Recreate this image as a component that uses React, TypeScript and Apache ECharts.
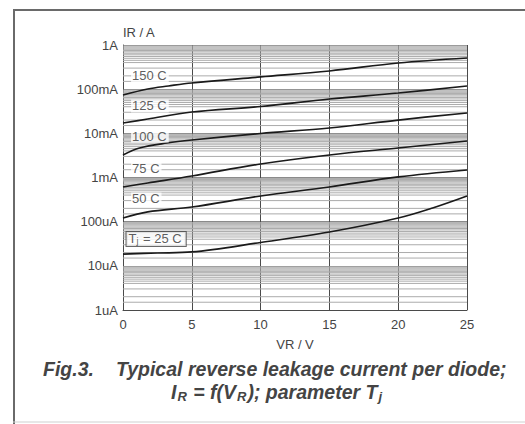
import React, { useEffect, useRef } from "react";
import * as echarts from "echarts";

// Reverse voltage VR (V) vs reverse current IR (A), per junction temperature
const t150: [number, number][] = [[0, 0.0738], [1.8, 0.101], [3.3, 0.118], [5, 0.138], [10, 0.189], [15, 0.258], [20, 0.391], [25, 0.508]];
const t125: [number, number][] = [[0, 0.01714], [1.8, 0.02113], [5, 0.0304], [10, 0.0405], [15, 0.0599], [20, 0.0819], [25, 0.118]];
const t100: [number, number][] = [[0, 0.00323], [1.2, 0.00466], [3.2, 0.00604], [5, 0.00706], [10, 0.00991], [15, 0.0132], [20, 0.02], [25, 0.0289]];
const t75: [number, number][] = [[0, 0.00061], [1.8, 0.000752], [5, 0.00108], [10, 0.00202], [15, 0.00323], [20, 0.00466], [25, 0.00671]];
const t50: [number, number][] = [[0, 0.000121], [1.8, 0.000166], [5, 0.000215], [10, 0.000381], [15, 0.00061], [20, 0.00103], [25, 0.00148]];
const t25: [number, number][] = [[0, 0.0000185], [2.5, 0.0000195], [5, 0.0000206], [10, 0.0000338], [15, 0.0000583], [20, 0.000121], [22.5, 0.000204], [25, 0.000381]];

const curves = [t150, t125, t100, t75, t50, t25];

const curveLabels = ["150 C", "125 C", "100 C", "75 C", "50 C"];
const curveLabelV = [0.55, 0.55, 0.55, 0.55, 0.55];
const curveLabelI = [0.199, 0.0416, 0.0087, 0.00164, 0.000326];
const tjLabelV = 0.22;
const tjLabelI = 0.0000406;

const yTickLabels = ["1uA", "10uA", "100uA", "1mA", "10mA", "100mA", "1A"];
const decades = [1e-6, 1e-5, 1e-4, 1e-3, 1e-2, 1e-1];
const minorMultipliers = [1.5, 2, 3, 4, 4.5, 5, 5.5, 6, 6.5, 7, 7.5, 8, 8.5, 9, 9.5];

export default function App() {
  const ref = useRef<HTMLDivElement>(null);
  useEffect(() => {
    document.body.style.margin = "0";
    const chart = echarts.init(ref.current!, null, { renderer: "svg" });
    const font = "'Liberation Sans', Arial, Helvetica, sans-serif";
    const minorValues: number[][] = [];
    decades.forEach((d) => minorMultipliers.forEach((m) => minorValues.push([12.5, m * d])));

    const series: any[] = [
      {
        type: "custom",
        silent: true,
        z: 1,
        data: minorValues,
        renderItem: (_p: any, api: any) => {
          const v = api.value(1);
          const a = api.coord([0, v]);
          const b = api.coord([25, v]);
          return {
            type: "line",
            shape: { x1: a[0], y1: a[1], x2: b[0], y2: b[1] },
            style: { stroke: "#ababab", lineWidth: 1 },
          };
        },
      },
      ...curves.map((c) => ({
        type: "line",
        data: c,
        smooth: 0.35,
        showSymbol: false,
        lineStyle: { color: "#1a1a1a", width: 1.7 },
        z: 5,
      })),
      {
        type: "scatter",
        symbolSize: 1,
        itemStyle: { color: "rgba(0,0,0,0)" },
        z: 10,
        data: curveLabels.map((n, i) => ({ name: n, value: [curveLabelV[i], curveLabelI[i]] })),
        label: {
          show: true,
          position: "right",
          distance: 0,
          formatter: "{b}",
          color: "#333",
          fontSize: 13,
          fontFamily: font,
          backgroundColor: "#fff",
          padding: [0, 2, 0, 1],
        },
      },
      {
        type: "scatter",
        symbolSize: 1,
        itemStyle: { color: "rgba(0,0,0,0)" },
        z: 10,
        data: [{ name: "Tj", value: [tjLabelV, tjLabelI] }],
        label: {
          show: true,
          position: "right",
          distance: 0,
          formatter: "{a|T}{s|j}{a| = 25 C}",
          backgroundColor: "#fff",
          borderColor: "#444",
          borderWidth: 1,
          padding: [0, 4, 0, 2],
          rich: {
            a: { fontSize: 13, color: "#333", fontFamily: font, lineHeight: 14, verticalAlign: "middle" },
            s: { fontSize: 9, color: "#333", fontFamily: font, lineHeight: 9, padding: [6, 1, 0, 0], verticalAlign: "bottom" },
          },
        },
      },
    ];

    const capStyle = { fontSize: 19.5, fontStyle: "italic", fontWeight: "bold", fontFamily: font, fill: "#444" };

    chart.setOption({
      animation: false,
      backgroundColor: "#fff",
      grid: { left: 123, top: 45, width: 344, height: 265, containLabel: false },
      xAxis: {
        type: "value",
        min: 0,
        max: 25,
        interval: 5,
        name: "VR / V",
        nameLocation: "middle",
        nameGap: 28,
        nameTextStyle: { color: "#444", fontSize: 13, fontFamily: font },
        axisLine: { show: true, lineStyle: { color: "#4a4a4a", width: 1 } },
        axisTick: { show: false },
        axisLabel: { color: "#444", fontSize: 13, fontFamily: font, margin: 8 },
        splitLine: { show: true, lineStyle: { color: "#4a4a4a", width: 1 } },
      },
      yAxis: {
        type: "log",
        logBase: 10,
        min: 1e-6,
        max: 1,
        interval: 1,
        name: "IR / A",
        nameLocation: "end",
        nameGap: 2,
        nameTextStyle: { color: "#444", fontSize: 13, fontFamily: font, align: "left" },
        axisLine: { show: true, lineStyle: { color: "#4a4a4a", width: 1 } },
        axisTick: { show: false },
        axisLabel: {
          color: "#444",
          fontSize: 13,
          fontFamily: font,
          margin: 5,
          formatter: (v: number) => {
            const idx = Math.round(Math.log10(v) + 6);
            return yTickLabels[idx] ?? "";
          },
        },
        splitLine: { show: true, lineStyle: { color: "#8a8a8a", width: 1 } },
      },
      graphic: [
        { type: "line", shape: { x1: 13, y1: 10, x2: 525, y2: 10 }, style: { stroke: "#6a6a6a", lineWidth: 2 } },
        { type: "line", shape: { x1: 14, y1: 10, x2: 14, y2: 424 }, style: { stroke: "#6a6a6a", lineWidth: 2 } },
        { type: "line", shape: { x1: 13, y1: 422, x2: 525, y2: 422 }, style: { stroke: "#cfcfcf", lineWidth: 1 } },
        {
          type: "text",
          x: 43,
          y: 369,
          style: { ...capStyle, text: "Fig.3.", align: "left", verticalAlign: "middle" },
        },
        {
          type: "text",
          x: 116,
          y: 369,
          style: { ...capStyle, text: "Typical reverse leakage current per diode;", align: "left", verticalAlign: "middle" },
        },
        {
          type: "text",
          x: 277,
          y: 392,
          style: {
            text: "{i|I}{s|R}{i| = f(V}{s|R}{i|); parameter T}{s|j}",
            align: "center",
            verticalAlign: "middle",
            rich: {
              i: { ...capStyle, lineHeight: 22, verticalAlign: "middle" },
              s: { ...capStyle, fontSize: 13, lineHeight: 13, padding: [13, 1, 0, 1], verticalAlign: "bottom" },
            },
          },
        },
      ],
      series,
    });
    return () => chart.dispose();
  }, []);
  return <div ref={ref} style={{ width: 525, height: 424 }} />;
}
